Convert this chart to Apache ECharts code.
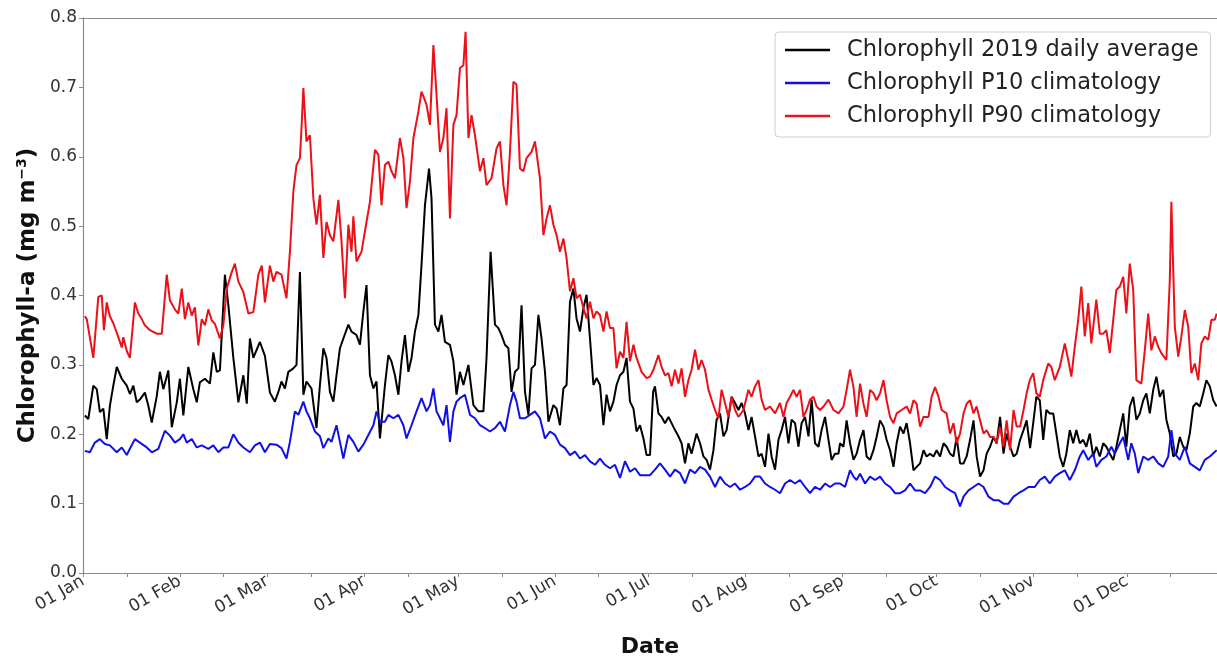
<!DOCTYPE html>
<html>
<head>
<meta charset="utf-8">
<script src="https://cdn.jsdelivr.net/npm/echarts@6/dist/echarts.min.js"></script>
<style>
html,body{margin:0;padding:0;background:#fff;}
#chart{width:1217px;height:659px;}
</style>
</head>
<body>
<div id="chart"></div>
<script>
// ---- data (day of year 2019, 0 = 01 Jan; value in mg m^-3) ----
const tickLabels = ['01 Jan','01 Feb','01 Mar','01 Apr','01 May','01 Jun','01 Jul','01 Aug','01 Sep','01 Oct','01 Nov','01 Dec'];
const monthStartDays = [0,31,59,90,120,151,181,212,243,273,304,334];
const midMonthDays = [14,45,73,104,134,165,195,226,257,287,318,348];
const seriesNames = ['Chlorophyll 2019 daily average','Chlorophyll P10 climatology','Chlorophyll P90 climatology'];

const daily2019 = [[0.6,.227],[1.7,.222],[3.3,.270],[4.4,.265],[5.4,.232],[6.5,.237],[7.6,.193],[8.6,.241],[9.7,.270],[10.8,.297],[12.4,.280],[14.0,.270],[15.0,.258],[16.1,.270],[17.2,.246],[18.2,.250],[19.8,.260],[20.9,.241],[22.0,.217],[23.6,.255],[24.6,.290],[25.7,.265],[27.3,.292],[28.4,.210],[30.0,.246],[31.0,.280],[32.1,.227],[33.7,.297],[35.3,.265],[36.4,.246],[37.4,.275],[39.0,.280],[40.6,.273],[41.7,.318],[42.8,.290],[43.8,.292],[45.4,.430],[46.5,.386],[48.1,.310],[49.7,.246],[51.3,.285],[52.4,.244],[53.4,.338],[54.5,.310],[56.6,.333],[58.2,.313],[59.8,.260],[61.4,.247],[62.5,.261],[63.5,.276],[64.6,.266],[65.7,.290],[67.3,.295],[68.3,.300],[69.4,.434],[70.5,.257],[71.5,.276],[73.1,.266],[74.7,.209],[75.8,.271],[76.9,.324],[77.9,.310],[79.0,.261],[80.1,.247],[81.1,.285],[82.2,.324],[83.3,.338],[84.9,.358],[85.9,.348],[87.5,.343],[88.6,.329],[89.7,.377],[90.7,.415],[91.8,.285],[92.9,.266],[93.9,.276],[95.0,.194],[96.6,.271],[97.7,.314],[98.7,.305],[99.8,.285],[100.9,.257],[101.9,.305],[103.0,.343],[104.1,.290],[105.1,.310],[106.2,.348],[107.3,.372],[108.3,.444],[109.4,.530],[110.7,.583],[111.5,.540],[112.6,.358],[113.7,.348],[114.7,.372],[115.8,.333],[117.4,.329],[118.5,.305],[119.5,.257],[120.6,.290],[121.7,.271],[123.3,.300],[124.9,.242],[126.5,.233],[128.1,.233],[129.1,.310],[130.4,.463],[131.8,.358],[132.9,.353],[133.9,.343],[135.0,.329],[136.1,.324],[137.1,.261],[138.2,.290],[139.3,.295],[140.3,.386],[141.4,.261],[142.5,.228],[143.5,.295],[144.6,.300],[145.7,.372],[146.7,.338],[147.8,.290],[148.9,.218],[150.5,.242],[151.5,.237],[152.6,.213],[153.7,.266],[154.7,.271],[155.8,.391],[156.9,.410],[157.9,.367],[159.0,.348],[160.1,.382],[161.1,.401],[162.2,.338],[163.3,.271],[164.3,.281],[165.4,.271],[166.5,.213],[167.5,.257],[168.6,.233],[169.7,.247],[170.7,.271],[171.8,.285],[172.9,.290],[173.9,.310],[175.0,.247],[176.1,.237],[177.1,.204],[178.2,.213],[179.3,.194],[180.3,.170],[181.4,.170],[182.4,.261],[183.0,.269],[184.1,.230],[185.1,.225],[186.2,.216],[187.3,.225],[188.3,.216],[189.4,.206],[190.5,.197],[191.5,.187],[192.6,.158],[193.7,.187],[194.7,.172],[196.3,.201],[197.4,.187],[198.5,.168],[199.5,.163],[200.6,.149],[201.7,.177],[202.7,.221],[203.8,.230],[204.9,.197],[205.9,.206],[207.5,.254],[208.6,.245],[209.7,.235],[210.7,.245],[211.8,.230],[212.9,.206],[213.9,.225],[215.0,.197],[216.1,.168],[217.1,.172],[218.2,.153],[219.3,.201],[220.3,.168],[221.4,.149],[222.5,.192],[223.5,.206],[224.6,.225],[225.7,.187],[226.7,.221],[227.8,.216],[228.9,.182],[229.9,.216],[231.0,.225],[232.1,.197],[233.1,.250],[234.2,.187],[235.3,.182],[236.3,.206],[237.4,.225],[238.5,.192],[239.5,.163],[240.6,.172],[241.7,.172],[242.2,.187],[243.3,.182],[244.3,.220],[245.4,.187],[246.5,.163],[247.5,.172],[248.6,.192],[249.7,.206],[250.7,.168],[251.8,.163],[252.9,.177],[253.9,.196],[255.0,.220],[256.1,.211],[257.1,.192],[258.2,.177],[259.3,.153],[260.3,.187],[261.4,.211],[262.5,.201],[263.5,.216],[264.6,.187],[265.7,.148],[266.7,.153],[267.8,.158],[268.9,.177],[269.9,.168],[271.0,.172],[272.1,.168],[273.1,.177],[274.2,.168],[275.3,.187],[276.3,.182],[277.4,.172],[278.5,.168],[279.5,.196],[280.6,.158],[281.7,.158],[282.7,.168],[283.8,.192],[284.9,.220],[285.9,.168],[287.0,.139],[288.1,.148],[289.1,.172],[290.2,.182],[291.3,.196],[292.3,.187],[293.4,.225],[294.5,.172],[295.5,.201],[296.6,.182],[297.7,.168],[298.7,.172],[299.8,.192],[300.9,.206],[301.9,.220],[303.0,.180],[304.0,.216],[305.0,.254],[306.1,.249],[307.2,.192],[308.2,.235],[309.3,.230],[310.4,.230],[311.4,.201],[312.5,.168],[313.6,.153],[314.6,.172],[315.7,.206],[316.8,.187],[317.8,.206],[318.9,.187],[320.0,.192],[321.0,.182],[322.1,.201],[323.2,.168],[324.2,.182],[325.3,.168],[326.4,.187],[327.4,.182],[328.5,.172],[329.6,.163],[330.6,.182],[331.7,.206],[332.8,.230],[333.8,.182],[334.9,.240],[336.0,.254],[337.0,.221],[338.1,.230],[339.2,.249],[340.2,.259],[341.3,.230],[342.4,.264],[343.4,.283],[344.5,.254],[345.6,.264],[346.6,.221],[347.7,.201],[348.8,.168],[349.8,.172],[350.9,.196],[352.0,.182],[353.0,.177],[354.1,.201],[355.2,.240],[356.2,.245],[357.3,.240],[358.4,.259],[359.4,.278],[360.5,.269],[361.6,.249],[362.7,.240]];

const p10Clim = [[0.6,.176],[2.2,.174],[3.8,.188],[5.4,.193],[7.0,.186],[8.6,.184],[10.8,.174],[12.4,.181],[14.0,.170],[15.0,.179],[16.6,.193],[18.2,.188],[20.4,.181],[22.0,.174],[24.1,.179],[26.2,.205],[27.8,.198],[29.4,.188],[31.0,.193],[32.1,.200],[33.2,.188],[34.8,.193],[36.4,.181],[38.0,.184],[40.1,.179],[41.7,.184],[43.3,.174],[44.9,.181],[46.5,.181],[48.1,.200],[49.7,.188],[51.3,.181],[53.4,.174],[55.0,.184],[56.6,.188],[58.2,.174],[59.8,.186],[61.9,.185],[63.5,.180],[65.1,.165],[66.2,.189],[67.8,.233],[68.9,.228],[70.5,.247],[71.5,.233],[72.6,.223],[74.2,.204],[75.8,.197],[76.9,.180],[78.5,.194],[79.5,.189],[81.1,.213],[82.2,.189],[83.3,.165],[84.9,.199],[86.5,.189],[88.1,.175],[89.7,.185],[91.3,.199],[92.9,.213],[93.9,.233],[95.0,.218],[96.6,.218],[97.7,.228],[99.3,.223],[100.9,.228],[102.5,.213],[103.5,.194],[105.1,.213],[106.7,.233],[108.3,.252],[109.9,.233],[111.0,.242],[112.1,.266],[113.1,.233],[114.2,.223],[115.3,.213],[116.3,.242],[117.4,.189],[118.5,.233],[119.5,.247],[120.6,.252],[122.2,.257],[123.8,.228],[125.4,.223],[127.0,.213],[128.6,.209],[130.2,.204],[131.8,.209],[133.4,.218],[135.0,.204],[136.6,.242],[137.7,.261],[138.7,.247],[139.8,.223],[141.4,.223],[143.0,.228],[144.6,.233],[146.2,.223],[147.8,.194],[149.4,.204],[151.0,.199],[152.6,.185],[154.2,.180],[155.8,.170],[157.4,.175],[159.0,.165],[160.6,.170],[162.2,.161],[163.8,.156],[165.4,.165],[167.0,.156],[168.6,.151],[170.2,.156],[171.8,.137],[173.4,.161],[175.0,.146],[176.6,.151],[178.2,.141],[179.8,.141],[181.4,.141],[183.0,.149],[184.6,.158],[186.2,.149],[187.8,.139],[189.4,.149],[191.0,.144],[192.6,.129],[194.2,.149],[195.8,.144],[197.4,.153],[199.0,.149],[200.6,.139],[202.2,.124],[203.8,.139],[205.4,.129],[207.0,.124],[208.6,.129],[210.2,.120],[211.8,.124],[213.4,.129],[215.0,.139],[216.6,.139],[218.2,.129],[219.8,.124],[221.4,.120],[223.0,.115],[224.6,.129],[226.2,.134],[227.8,.129],[229.4,.134],[231.0,.124],[232.6,.115],[234.2,.124],[235.8,.120],[237.4,.129],[239.0,.124],[240.6,.129],[242.2,.129],[243.8,.124],[245.4,.148],[246.5,.139],[247.5,.134],[248.6,.143],[250.2,.129],[251.8,.139],[253.4,.134],[255.0,.139],[256.6,.129],[258.2,.124],[259.8,.115],[261.4,.115],[263.0,.119],[264.6,.129],[266.2,.119],[267.8,.119],[269.4,.115],[271.0,.124],[272.6,.139],[274.2,.134],[275.8,.124],[277.4,.119],[279.0,.115],[280.6,.096],[281.7,.110],[283.3,.119],[284.9,.124],[286.5,.129],[288.1,.124],[289.7,.110],[291.3,.105],[292.9,.105],[294.5,.100],[296.1,.100],[297.7,.110],[299.3,.115],[300.9,.119],[302.5,.124],[304.5,.124],[306.1,.134],[307.7,.139],[309.3,.129],[310.9,.139],[312.5,.144],[314.1,.148],[315.7,.134],[317.3,.148],[318.9,.168],[320.0,.177],[321.6,.163],[323.2,.172],[324.2,.153],[325.8,.163],[327.4,.168],[329.0,.182],[330.1,.172],[331.7,.187],[332.8,.196],[334.4,.163],[335.4,.187],[336.5,.172],[337.6,.144],[339.2,.168],[340.8,.163],[342.4,.168],[344.0,.158],[345.6,.153],[347.2,.168],[348.2,.206],[349.3,.172],[350.9,.163],[352.5,.182],[354.1,.158],[355.7,.153],[357.3,.148],[358.9,.163],[360.5,.168],[362.7,.177]];

const p90Clim = [[0.6,.370],[1.2,.366],[3.3,.310],[4.9,.398],[6.0,.400],[6.7,.350],[7.6,.390],[8.6,.370],[9.7,.360],[11.3,.340],[12.4,.325],[12.9,.340],[14.0,.320],[15.0,.310],[16.6,.390],[17.7,.374],[18.8,.366],[19.8,.357],[21.4,.350],[23.6,.345],[25.2,.345],[26.8,.430],[27.8,.393],[29.4,.380],[30.5,.374],[31.6,.410],[32.6,.366],[33.7,.390],[34.8,.371],[35.8,.383],[36.9,.328],[38.0,.366],[39.0,.357],[40.1,.380],[41.2,.364],[42.2,.359],[43.8,.338],[44.9,.357],[46.0,.410],[47.6,.434],[48.6,.446],[49.7,.420],[51.3,.405],[52.9,.374],[54.5,.376],[56.1,.430],[57.2,.443],[58.2,.390],[59.8,.443],[60.9,.420],[61.9,.434],[63.5,.430],[65.1,.396],[66.2,.463],[67.3,.550],[68.3,.588],[69.4,.598],[69.9,.641],[70.5,.699],[71.5,.622],[72.6,.631],[73.7,.540],[74.7,.502],[75.8,.545],[76.9,.454],[77.9,.506],[79.0,.487],[80.1,.478],[81.7,.538],[82.7,.478],[83.8,.396],[84.9,.502],[85.9,.463],[86.5,.514],[87.5,.449],[89.1,.463],[90.7,.506],[91.8,.535],[93.4,.610],[94.5,.603],[95.5,.530],[96.6,.588],[97.7,.593],[98.7,.579],[99.8,.569],[101.4,.627],[102.5,.598],[103.5,.526],[104.6,.564],[105.7,.627],[107.3,.665],[108.3,.694],[109.9,.675],[111.0,.646],[112.1,.761],[113.1,.689],[114.2,.607],[115.3,.627],[116.3,.670],[117.4,.511],[118.5,.646],[119.5,.660],[120.6,.728],[121.7,.732],[122.4,.780],[123.3,.627],[124.3,.660],[125.4,.631],[127.0,.579],[128.1,.598],[129.1,.559],[130.7,.569],[132.3,.612],[133.4,.622],[134.5,.559],[135.5,.530],[136.6,.607],[137.7,.708],[138.7,.704],[139.8,.583],[140.9,.579],[141.9,.598],[143.5,.607],[144.6,.622],[146.2,.569],[147.3,.487],[148.3,.511],[149.4,.530],[150.5,.502],[151.5,.487],[152.6,.463],[153.7,.482],[154.7,.454],[155.8,.406],[156.9,.425],[157.9,.396],[159.0,.401],[160.1,.382],[161.1,.367],[162.2,.391],[163.3,.367],[164.3,.377],[165.4,.372],[166.5,.348],[167.5,.377],[168.6,.353],[169.7,.353],[170.7,.295],[171.8,.319],[172.9,.310],[173.9,.362],[175.0,.305],[176.1,.329],[177.1,.310],[178.7,.290],[180.3,.281],[181.4,.283],[182.5,.293],[184.1,.314],[185.1,.297],[186.2,.285],[187.3,.288],[188.3,.269],[189.4,.293],[190.5,.273],[191.5,.295],[192.6,.254],[193.7,.278],[194.7,.293],[195.8,.322],[196.9,.293],[197.9,.307],[199.0,.293],[200.1,.264],[201.1,.250],[202.2,.235],[203.3,.223],[204.3,.264],[205.4,.245],[206.5,.225],[207.5,.254],[208.6,.235],[209.7,.225],[211.3,.235],[212.9,.264],[213.9,.254],[215.0,.269],[216.1,.278],[217.1,.250],[218.2,.235],[219.8,.240],[221.4,.230],[223.0,.245],[224.1,.225],[225.1,.245],[226.2,.254],[227.3,.264],[228.3,.254],[229.4,.264],[230.5,.225],[231.5,.235],[232.6,.250],[233.7,.254],[234.7,.240],[235.8,.235],[236.9,.240],[238.5,.250],[240.1,.235],[241.7,.230],[243.3,.240],[244.3,.264],[245.4,.293],[246.5,.268],[247.5,.225],[248.6,.273],[249.7,.244],[250.7,.225],[251.8,.264],[252.9,.259],[253.9,.249],[255.0,.259],[256.1,.278],[257.1,.249],[258.2,.225],[259.3,.216],[260.3,.230],[261.9,.235],[263.5,.240],[264.6,.230],[265.7,.249],[266.7,.244],[267.8,.211],[268.9,.225],[270.5,.225],[271.5,.254],[272.6,.268],[273.7,.254],[274.7,.235],[276.3,.230],[277.4,.201],[278.5,.216],[279.5,.187],[280.6,.201],[281.7,.230],[282.7,.244],[283.8,.249],[284.9,.230],[285.9,.240],[287.0,.220],[288.1,.201],[289.1,.206],[290.2,.196],[291.3,.196],[292.3,.187],[293.4,.211],[294.5,.182],[295.5,.220],[296.6,.177],[297.7,.235],[298.7,.211],[299.8,.211],[300.9,.235],[301.9,.259],[302.9,.278],[304.0,.288],[305.0,.259],[306.1,.254],[307.2,.278],[308.8,.302],[309.8,.297],[310.9,.278],[312.5,.297],[314.1,.331],[315.2,.307],[316.2,.283],[317.3,.326],[318.4,.365],[319.4,.413],[320.5,.341],[321.6,.389],[322.6,.331],[324.2,.394],[325.3,.345],[326.4,.345],[327.4,.350],[328.5,.317],[329.6,.365],[330.6,.408],[331.7,.413],[332.8,.427],[333.8,.374],[334.9,.446],[336.0,.408],[337.0,.278],[338.6,.273],[339.7,.321],[340.8,.374],[341.8,.321],[342.9,.341],[344.0,.326],[345.0,.317],[346.6,.307],[347.7,.422],[348.2,.535],[349.3,.355],[350.4,.312],[351.4,.341],[352.5,.379],[353.6,.355],[354.6,.288],[355.7,.302],[356.8,.278],[357.8,.331],[358.9,.341],[360.0,.336],[361.0,.365],[362.1,.365],[362.7,.374]];

const seriesColors = ['#000000','#1010e6','#ec1018'];

// ---- chart ----
const FONT = 'DejaVu Sans';
const axisColor = '#8a8a8a';
const chart = echarts.init(document.getElementById('chart'), null, {renderer:'canvas'});
const option = {
  animation: false,
  backgroundColor: '#ffffff',
  textStyle: {fontFamily: FONT},
  grid: {left: 83, right: 0, top: 18, bottom: 86, containLabel: false, outerBoundsMode: 'none'},
  legend: {
    orient: 'vertical', left: 775, top: 32,
    icon: 'rect', itemWidth: 45, itemHeight: 2.5, itemGap: 7,
    padding: [5, 12, 8, 10],
    borderColor: '#d0d0d0', borderWidth: 1, borderRadius: 4,
    backgroundColor: '#ffffff',
    textStyle: {fontFamily: FONT, fontSize: 22.5, color: '#222', lineHeight: 26, padding: [0,0,0,12]},
    data: seriesNames
  },
  xAxis: [{
    type: 'value', min: 0, max: 362.8, position: 'bottom',
    axisLine: {show: true, onZero: false, lineStyle: {color: axisColor, width: 1.2}},
    splitLine: {show: false},
    axisTick: {show: true, customValues: monthStartDays.concat(midMonthDays), length: 4, lineStyle: {color: axisColor}},
    axisLabel: {
      customValues: monthStartDays, rotate: 30, margin: 7,
      fontFamily: FONT, fontSize: 17, color: '#333',
      formatter: function (v) { const i = monthStartDays.indexOf(Math.round(v)); return i >= 0 ? tickLabels[i] : ''; }
    },
    name: 'Date', nameLocation: 'middle', nameGap: 63,
    nameTextStyle: {fontFamily: FONT, fontWeight: 'bold', fontSize: 22, color: '#111'}
  }, {
    type: 'value', min: 0, max: 362.8, position: 'top',
    axisLine: {show: true, onZero: false, lineStyle: {color: axisColor, width: 1.2}},
    axisTick: {show: false}, axisLabel: {show: false}, splitLine: {show: false}
  }],
  yAxis: {
    type: 'value', min: 0, max: 0.8, interval: 0.1,
    axisLine: {show: true, lineStyle: {color: axisColor, width: 1.2}},
    axisTick: {show: true, length: 4, lineStyle: {color: axisColor}},
    splitLine: {show: false},
    axisLabel: {fontFamily: FONT, fontSize: 17, color: '#333', margin: 6, formatter: function (v) { return v.toFixed(1); }},
    name: 'Chlorophyll-a (mg m{sup|−3})', nameLocation: 'middle', nameGap: 34, nameRotate: 90,
    nameTextStyle: {
      fontFamily: FONT, fontWeight: 'bold', fontSize: 23, color: '#111',
      rich: {sup: {fontFamily: FONT, fontWeight: 'bold', fontSize: 14, color: '#111', verticalAlign: 'top', padding: [0,0,11,0]}}
    }
  },
  series: [daily2019, p10Clim, p90Clim].map(function (d, i) {
    return {
      name: seriesNames[i], type: 'line', xAxisIndex: 0, data: d,
      symbol: 'none', showSymbol: false, smooth: false,
      lineStyle: {color: seriesColors[i], width: 2}, itemStyle: {color: seriesColors[i]},
      z: 2 + i
    };
  })
};
chart.setOption(option);
</script>
</body>
</html>
